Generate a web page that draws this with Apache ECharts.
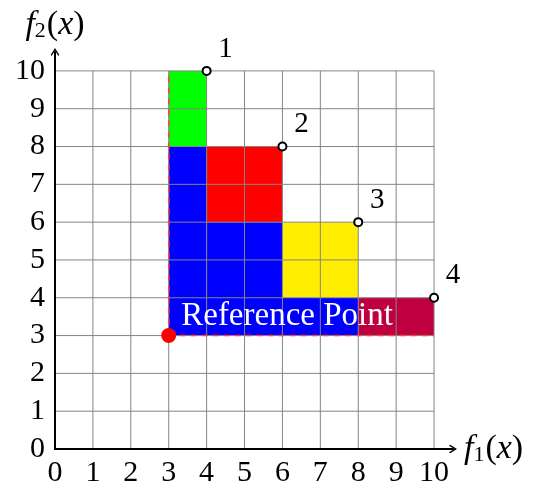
<!DOCTYPE html>
<html>
<head>
<meta charset="utf-8">
<script src="https://cdn.jsdelivr.net/npm/echarts@6/dist/echarts.min.js"></script>
<style>html,body{margin:0;padding:0;background:#fff}#c{width:533px;height:489px}</style>
</head>
<body>
<div id="c"></div>
<script>
// ---- data ----
var tickValues = [0,1,2,3,4,5,6,7,8,9,10];
var pointF1 = [4, 6, 8, 10];
var pointF2 = [10, 8, 6, 4];
var pointLabels = ['1', '2', '3', '4'];
var refPoint = [3, 3];
var refText = 'Reference Point';
// rectangles: [x0, y0, x1, y1]
var greenRects = [[3, 8, 4, 10]];
var redRects = [[4, 6, 6, 8]];
var blueRects = [[3, 3, 4, 8], [4, 3, 6, 6], [6, 3, 8, 4]];
var yellowRects = [[6, 4, 8, 6]];
var crimsonRects = [[8, 3, 10, 4]];
var dashedLines = [[3, 3, 3, 10], [3, 3, 10, 3]];

var serif = "'Liberation Serif', 'DejaVu Serif', serif";
var chart = echarts.init(document.getElementById('c'), null, {renderer: 'canvas'});

function rectSeries(rects, color) {
  return {
    type: 'custom', z: 1, silent: true,
    data: rects,
    renderItem: function (params, api) {
      var p0 = api.coord([api.value(0), api.value(1)]);
      var p1 = api.coord([api.value(2), api.value(3)]);
      return {type: 'rect', shape: {x: Math.min(p0[0], p1[0]), y: Math.min(p0[1], p1[1]),
        width: Math.abs(p1[0] - p0[0]), height: Math.abs(p1[1] - p0[1])},
        style: {fill: color}};
    }
  };
}

var nameRich = {
  i: {fontFamily: serif, fontStyle: 'italic', fontSize: 34, color: '#000'},
  n: {fontFamily: serif, fontSize: 34, color: '#000'},
  s: {fontFamily: serif, fontSize: 22, color: '#000', padding: [12, 1, 0, 0]}
};
var arrowPath = 'path://M5,0 L10,8 L9,9.5 L5,3 L1,9.5 L0,8 Z';

var option = {
  animation: false,
  grid: {left: 55, right: 80, top: 52, bottom: 40, containLabel: false},
  xAxis: {
    type: 'value', min: 0, max: 10.5, interval: 1,
    name: '{i|f}{s|1}{n|(}{i|x}{n|)}',
    nameLocation: 'end', nameGap: 11,
    nameTextStyle: {rich: nameRich, verticalAlign: 'middle', align: 'left'},
    splitLine: {show: false}, axisTick: {show: false},
    axisLine: {lineStyle: {color: '#000', width: 2}, symbol: ['none', arrowPath], symbolSize: [10, 8]},
    axisLabel: {fontFamily: serif, fontSize: 30, color: '#000', margin: 9,
      formatter: function (v) { return tickValues.indexOf(v) >= 0 ? String(v) : ''; }},
    z: 5
  },
  yAxis: {
    type: 'value', min: 0, max: 10.5, interval: 1,
    name: '{i|f}{s|2}{n|(}{i|x}{n|)}',
    nameLocation: 'end', nameGap: 10,
    nameTextStyle: {rich: nameRich, align: 'center', verticalAlign: 'bottom'},
    splitLine: {show: false}, axisTick: {show: false},
    axisLine: {lineStyle: {color: '#000', width: 2}, symbol: ['none', arrowPath], symbolSize: [10, 8]},
    axisLabel: {fontFamily: serif, fontSize: 30, color: '#000', margin: 10,
      formatter: function (v) { return tickValues.indexOf(v) >= 0 ? String(v) : ''; }},
    z: 5
  },
  series: [
    rectSeries(greenRects, '#00ff00'),
    rectSeries(redRects, '#ff0000'),
    rectSeries(blueRects, '#0000ff'),
    rectSeries(yellowRects, '#ffee00'),
    rectSeries(crimsonRects, '#bf0040'),
    { // grid lines
      type: 'custom', z: 2, silent: true,
      data: tickValues,
      renderItem: function (params, api) {
        var v = api.value(0);
        var lo = tickValues[0], hi = tickValues[tickValues.length - 1];
        var a = api.coord([v, lo]), b = api.coord([v, hi]);
        var c = api.coord([lo, v]), d = api.coord([hi, v]);
        var st = {stroke: '#858585', lineWidth: 1};
        return {type: 'group', children: [
          {type: 'line', shape: {x1: a[0], y1: a[1], x2: b[0], y2: b[1]}, style: st},
          {type: 'line', shape: {x1: c[0], y1: c[1], x2: d[0], y2: d[1]}, style: st}
        ]};
      }
    },
    { // dashed red border
      type: 'custom', z: 3, silent: true,
      data: dashedLines,
      renderItem: function (params, api) {
        var a = api.coord([api.value(0), api.value(1)]);
        var b = api.coord([api.value(2), api.value(3)]);
        return {type: 'line', shape: {x1: a[0], y1: a[1], x2: b[0], y2: b[1]},
          style: {stroke: '#ff4040', lineWidth: 1.6, lineDash: [6, 5]}};
      }
    },
    { // reference label
      type: 'custom', z: 4, silent: true,
      data: [[refPoint[0] + 0.33, refPoint[1] + 0.52]],
      renderItem: function (params, api) {
        var p = api.coord([api.value(0), api.value(1)]);
        return {type: 'text', x: p[0], y: p[1],
          style: {text: refText, fill: '#fff', font: '33px ' + serif, align: 'left', verticalAlign: 'middle'}};
      }
    },
    {
      type: 'scatter', z: 6, silent: true,
      data: [refPoint],
      symbol: 'circle', symbolSize: 15,
      itemStyle: {color: '#ff0000', opacity: 1}
    },
    {
      type: 'scatter', z: 7, silent: true,
      data: pointF1.map(function (x, i) { return [x, pointF2[i], pointLabels[i]]; }),
      symbol: 'circle', symbolSize: 8,
      itemStyle: {color: '#fff', borderColor: '#000', borderWidth: 2, opacity: 1},
      label: {show: true, position: 'inside', offset: [19, -22],
        formatter: function (p) { return p.value[2]; },
        fontFamily: serif, fontSize: 29, color: '#000'}
    }
  ]
};
chart.setOption(option);
</script>
</body>
</html>
